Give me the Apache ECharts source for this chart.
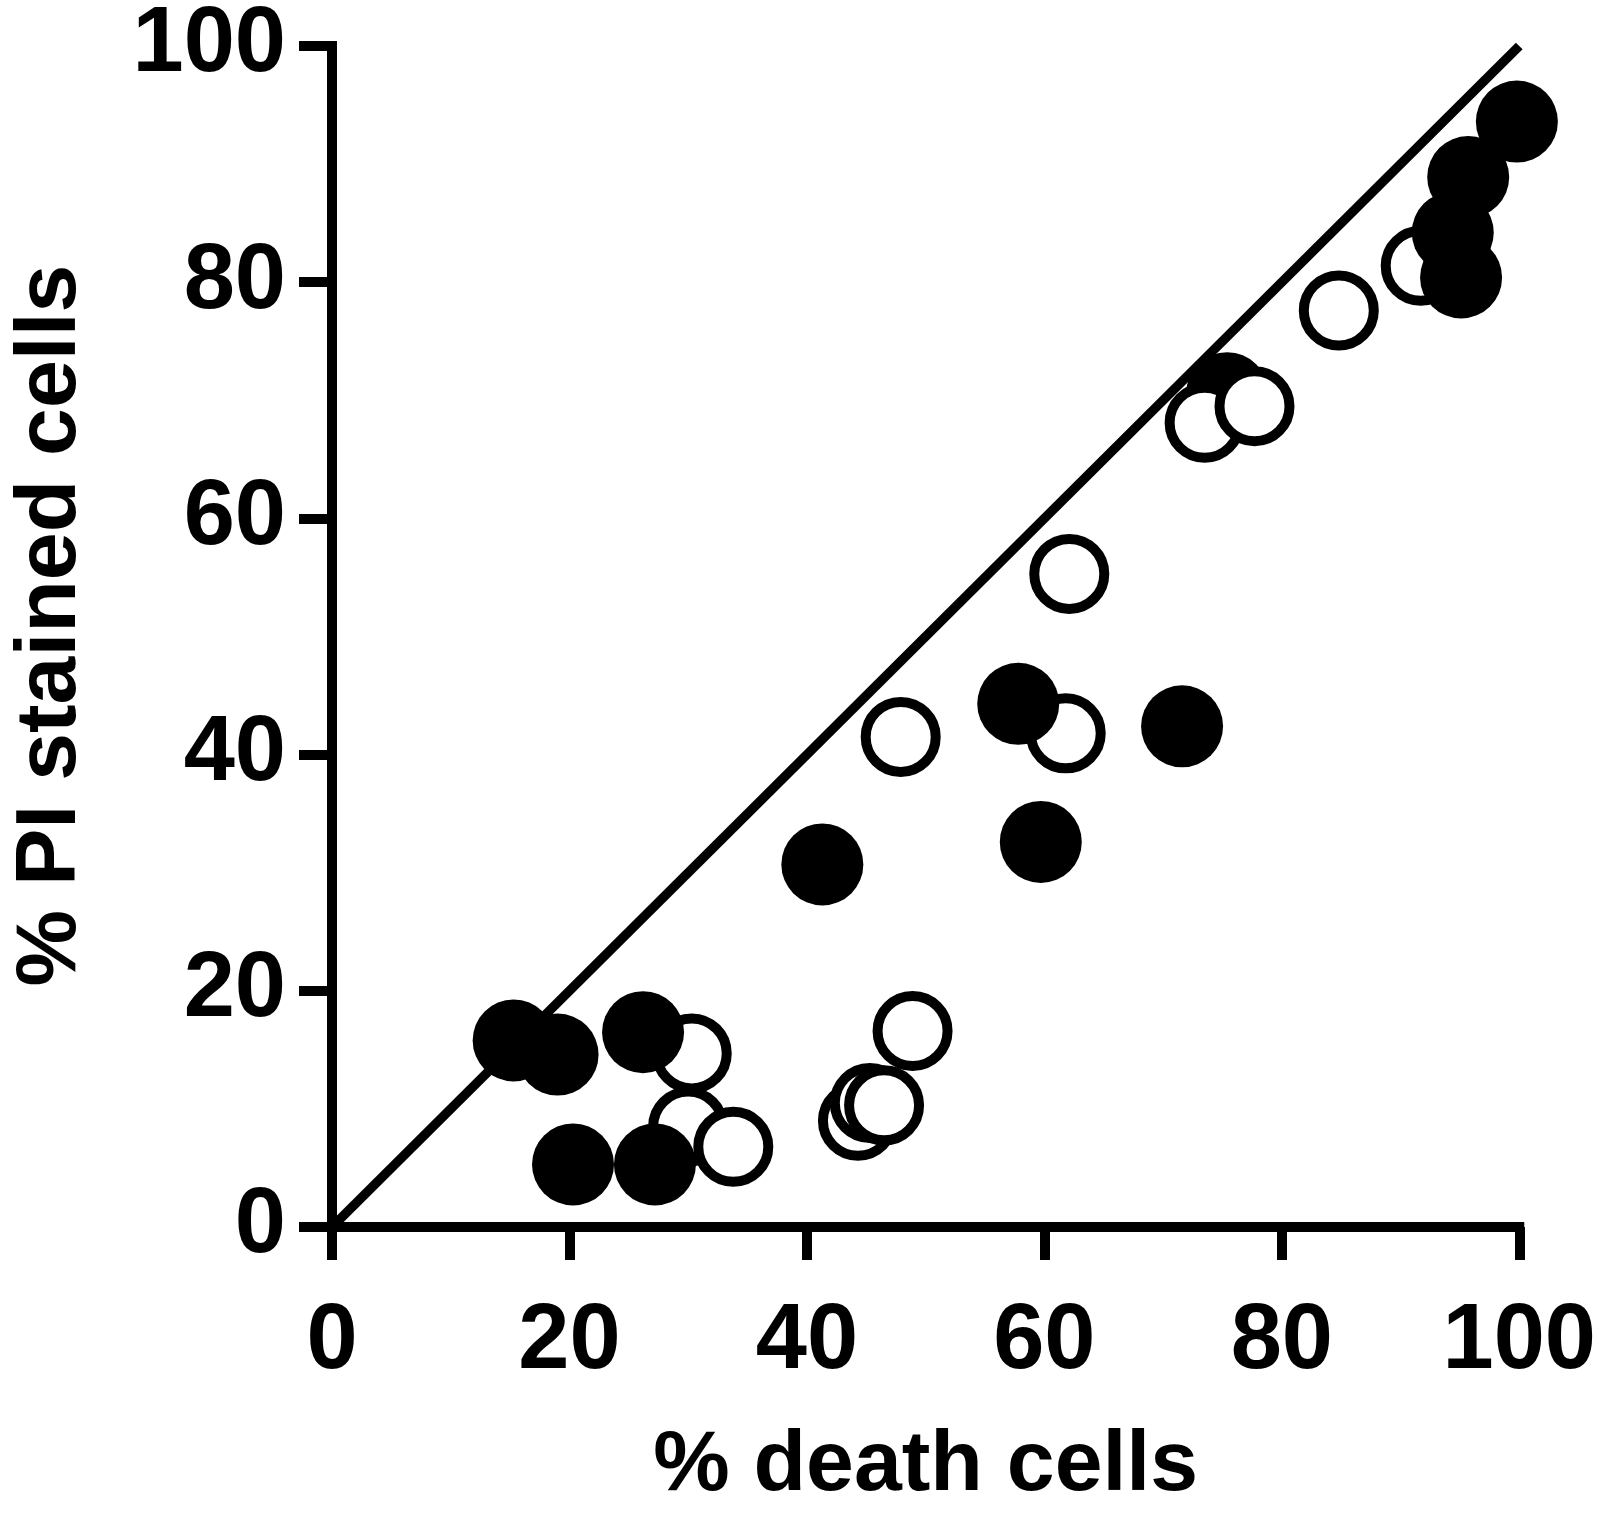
<!DOCTYPE html>
<html>
<head>
<meta charset="utf-8">
<title>% PI stained cells vs % death cells</title>
<script src="https://cdn.jsdelivr.net/npm/echarts@6/dist/echarts.min.js"></script>
<style>
  html, body { margin: 0; padding: 0; background: #fff; }
  #main { width: 1599px; height: 1514px; }
</style>
</head>
<body>
<div id="main"></div>
<script>
// tick values for both axes
var tickValues = [0, 20, 40, 60, 80, 100];

// [ % death cells, % PI stained cells ]
var closedPts = [
  [15.3, 15.8], [19.0, 14.6], [26.2, 16.5], [20.3, 5.3], [27.2, 5.3],
  [41.3, 30.7], [57.8, 44.3], [59.7, 32.6], [71.6, 42.4],
  [95.1, 80.4], [94.4, 84.2], [95.7, 88.9], [99.8, 93.6]
];
// filled point hidden under the open circles near 75%
var closedBehindPts = [
  [75.4, 70.6]
];
var openPts = [
  [30.3, 14.7], [30.0, 8.5], [33.8, 6.8], [44.3, 9.0], [45.3, 10.5],
  [46.5, 10.3], [48.9, 16.6], [47.9, 41.5], [61.8, 41.8], [62.1, 55.3],
  [73.5, 68.1], [77.7, 69.5], [84.8, 77.6], [91.7, 81.4]
];
// identity line
var identityLine = [[0, 0], [100, 100]];

var fontFam = '"Liberation Sans", Arial, sans-serif';

function makeAxis(name, nameGap, labelMargin, namePadding) {
  return {
    type: 'value',
    min: tickValues[0],
    max: tickValues[tickValues.length - 1],
    interval: tickValues[1] - tickValues[0],
    name: name,
    nameLocation: 'middle',
    nameGap: nameGap,
    nameTextStyle: {
      color: '#000',
      fontFamily: fontFam,
      fontWeight: 'bold',
      fontSize: 86,
      padding: namePadding
    },
    axisLine: {
      show: true,
      lineStyle: { color: '#000', width: 10, cap: 'square' }
    },
    axisTick: {
      show: true,
      inside: false,
      length: 33,
      lineStyle: { color: '#000', width: 10 }
    },
    axisLabel: {
      color: '#000',
      fontFamily: fontFam,
      fontWeight: 'bold',
      fontSize: 92,
      margin: labelMargin
    },
    splitLine: { show: false }
  };
}

var myChart = echarts.init(document.getElementById('main'), null, { renderer: 'canvas' });

myChart.setOption({
  animation: false,
  backgroundColor: '#fff',
  grid: {
    left: 322,
    right: 78,
    top: 42,
    bottom: 272.5,
    containLabel: false
  },
  xAxis: makeAxis('% death cells', 196, 70, 0),
  yAxis: makeAxis('% PI stained cells', 238, 46, [0, 0, 0, 22]),
  series: [
    {
      type: 'line',
      data: identityLine,
      symbol: 'none',
      z: 1,
      lineStyle: { color: '#000', width: 9.5 }
    },
    {
      type: 'scatter',
      data: closedBehindPts,
      symbol: 'circle',
      symbolSize: 82,
      z: 2,
      itemStyle: { color: '#000', opacity: 1 }
    },
    {
      type: 'scatter',
      data: openPts,
      symbol: 'circle',
      symbolSize: 70,
      z: 3,
      itemStyle: { color: '#fff', borderColor: '#000', borderWidth: 10, opacity: 1 }
    },
    {
      type: 'scatter',
      data: closedPts,
      symbol: 'circle',
      symbolSize: 82,
      z: 4,
      itemStyle: { color: '#000', opacity: 1 }
    }
  ]
});
</script>
</body>
</html>
